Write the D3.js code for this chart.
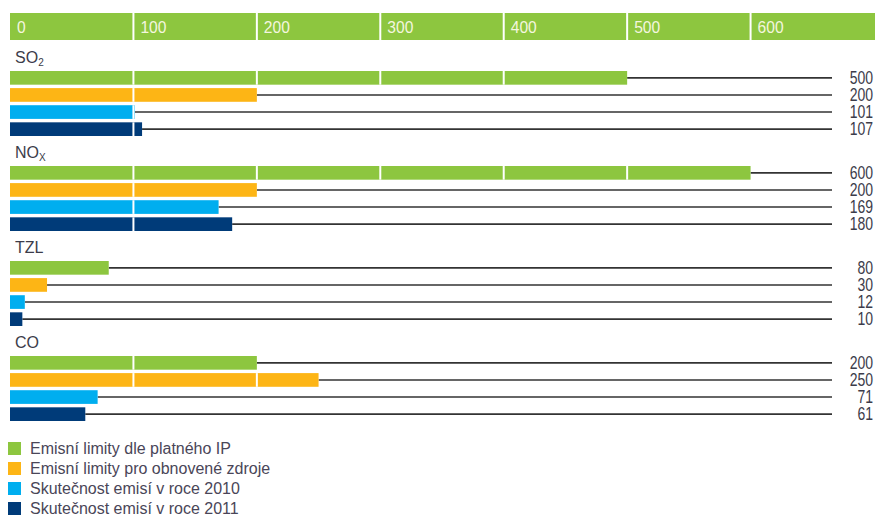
<!DOCTYPE html>
<html>
<head>
<meta charset="utf-8">
<script src="https://cdn.jsdelivr.net/npm/d3@7"></script>
<style>
  body { margin: 0; background: #fff; }
  text { font-family: "Liberation Sans", Arial, sans-serif; }
</style>
</head>
<body>
<div id="chart"></div>
<script>
// Our canvas
const width = 875,
  height = 515

// Data
const pollutants = ['SO2', 'NOx', 'TZL', 'CO']
const seriesNames = [
  'Emisní limity dle platného IP',
  'Emisní limity pro obnovené zdroje',
  'Skutečnost emisí v roce 2010',
  'Skutečnost emisí v roce 2011'
]
const limitIP = [500, 600, 80, 200]
const limitNew = [200, 200, 30, 250]
const actual2010 = [101, 169, 12, 71]
const actual2011 = [107, 180, 10, 61]
const ticks = [0, 100, 200, 300, 400, 500, 600]
const colors = ['#8dc63f', '#fdb515', '#00aeef', '#003b79']

const seriesValues = [limitIP, limitNew, actual2010, actual2011]

let svg = d3.select('#chart')
  .append('svg')
  .attr('width', width)
  .attr('height', height)

let x = d3.scaleLinear()
  .domain([0, 700])
  .range([10, 874])

let yGroup = d3.scaleBand()
  .domain(pollutants)
  .range([48, 48 + 95 * 4])

let yRow = d3.scaleBand()
  .domain(d3.range(4))
  .range([23, 88])
  .paddingInner(0.2)

// header band
let header = svg.append('g')
header.append('rect')
  .attr('x', x(0)).attr('y', 13)
  .attr('width', width - x(0)).attr('height', 27)
  .attr('fill', colors[0])
header.selectAll('line')
  .data(ticks.slice(1))
  .enter().append('line')
  .attr('x1', d => x(d)).attr('x2', d => x(d))
  .attr('y1', 13).attr('y2', 40)
  .attr('stroke', '#fff').attr('stroke-width', 2)
header.selectAll('text')
  .data(ticks)
  .enter().append('text')
  .attr('transform', d => `translate(${x(d) + 7},33) scale(0.92,1)`)
  .attr('fill', '#f4f6df')
  .style('font-size', '17px')
  .text(d => d)

// groups
let groups = svg.selectAll('g.group')
  .data(pollutants)
  .enter().append('g')
  .attr('class', 'group')
  .attr('transform', d => `translate(0,${yGroup(d)})`)

let labels = groups.append('text')
  .attr('x', 15)
  .attr('y', 15)
  .attr('fill', '#3c3c4a')
  .style('font-size', '16px')
labels.each(function(d) {
  let t = d3.select(this)
  if (d === 'SO2' || d === 'NOx') {
    t.append('tspan').text(d.slice(0, 2))
    t.append('tspan')
      .attr('dy', 3)
      .style('font-size', '10px')
      .text(d === 'SO2' ? '2' : 'X')
  } else {
    t.text(d)
  }
})

groups.each(function(p, gi) {
  let g = d3.select(this)
  let rows = seriesValues.map((vals, si) => ({ si: si, v: vals[gi] }))
  let row = g.selectAll('g.row')
    .data(rows)
    .enter().append('g')
    .attr('class', 'row')
    .attr('transform', d => `translate(0,${yRow(d.si)})`)

  // leader line
  row.append('line')
    .attr('x1', d => x(d.v)).attr('x2', 832)
    .attr('y1', yRow.bandwidth() / 2).attr('y2', yRow.bandwidth() / 2)
    .attr('stroke', '#333').attr('stroke-width', 1.6)

  row.append('rect')
    .attr('x', x(0))
    .attr('y', 0)
    .attr('width', d => x(d.v) - x(0))
    .attr('height', yRow.bandwidth())
    .attr('fill', d => colors[d.si])

  // white segment dividers every 100
  row.selectAll('line.div')
    .data(d => ticks.filter(t => t > 0 && t < d.v))
    .enter().append('line')
    .attr('class', 'div')
    .attr('x1', d => x(d)).attr('x2', d => x(d))
    .attr('y1', 0).attr('y2', yRow.bandwidth())
    .attr('stroke', '#fff').attr('stroke-width', 2)

  // value labels, condensed
  row.append('text')
    .attr('transform', `translate(873,${yRow.bandwidth() / 2}) scale(0.8,1)`)
    .attr('dy', '0.36em')
    .attr('text-anchor', 'end')
    .attr('fill', '#3c3c4a')
    .style('font-size', '17.5px')
    .text(d => d.v)
})

// legend
let legend = svg.selectAll('g.legend')
  .data(seriesNames)
  .enter().append('g')
  .attr('class', 'legend')
  .attr('transform', (d, i) => `translate(8,${442 + i * 20})`)
legend.append('rect')
  .attr('width', 13).attr('height', 13)
  .attr('fill', (d, i) => colors[i])
legend.append('text')
  .attr('x', 22).attr('y', 12)
  .attr('fill', '#4a4658')
  .style('font-size', '16px')
  .text(d => d)
</script>
</body>
</html>
